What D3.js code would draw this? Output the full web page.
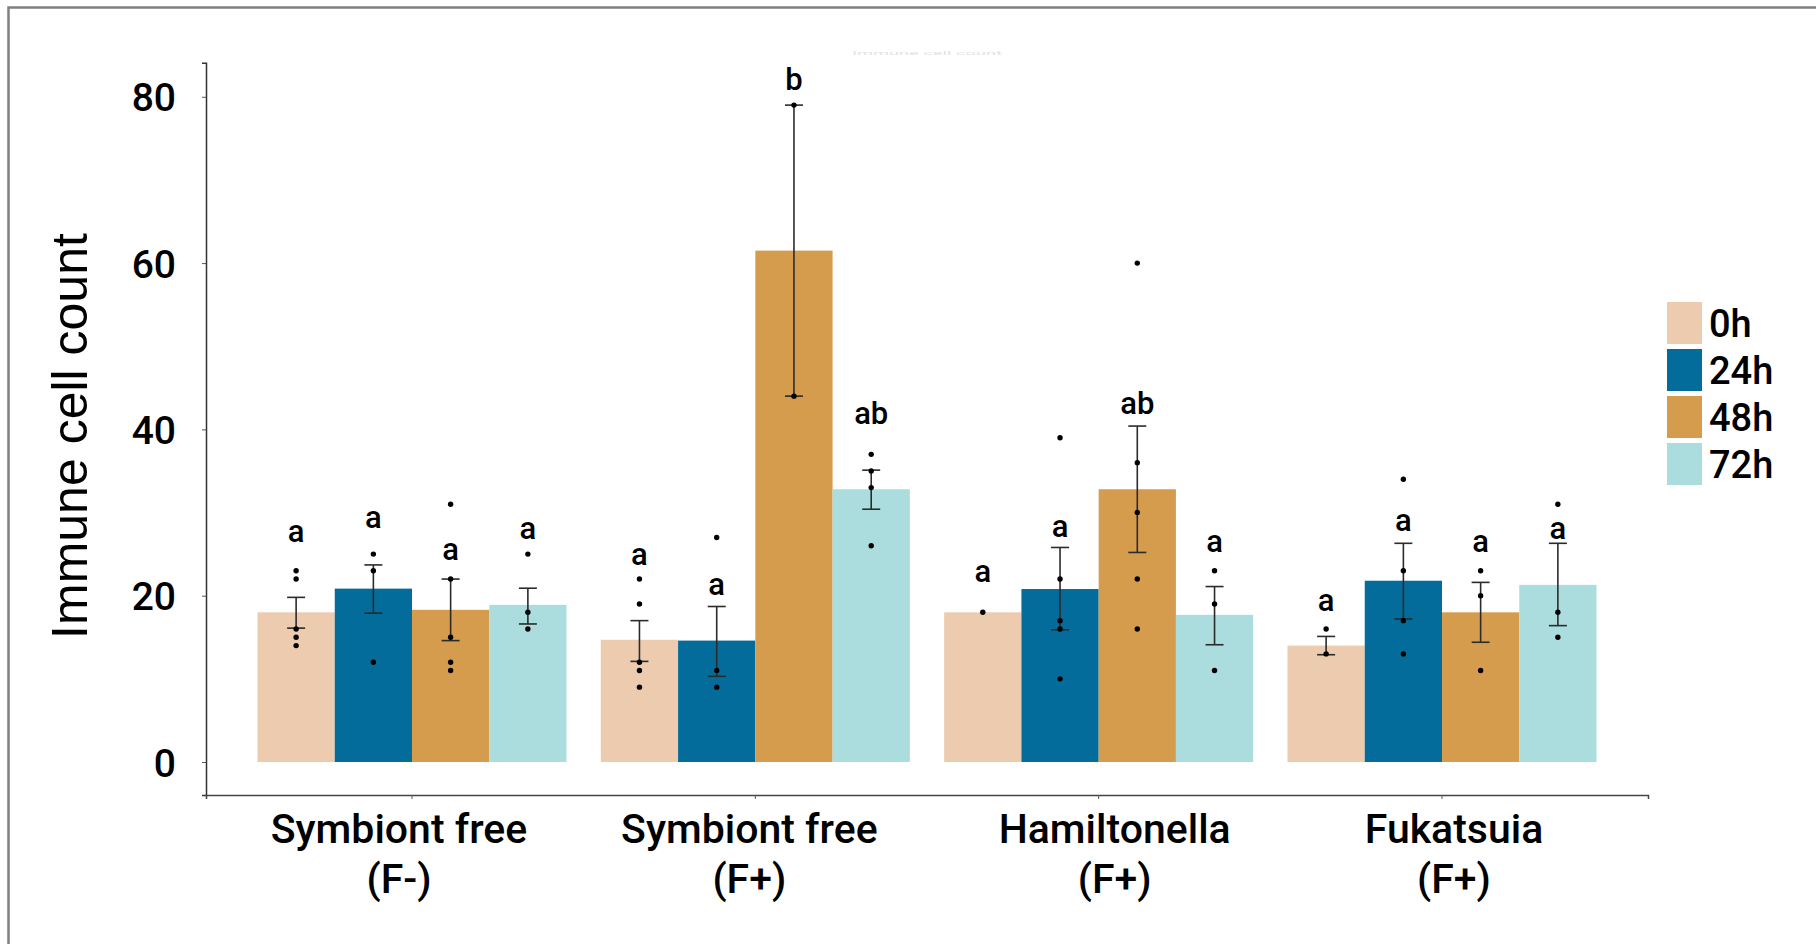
<!DOCTYPE html>
<html>
<head>
<meta charset="utf-8">
<script src="https://cdn.jsdelivr.net/npm/d3@7"></script>
<style>
  body { margin: 0; background: #fff; }
  text { font-family: Roboto, "Liberation Sans", sans-serif; }
</style>
</head>
<body>
<svg width="1816" height="944"></svg>
<script>
var categories = ["Symbiont free (F-)", "Symbiont free (F+)", "Hamiltonella (F+)", "Fukatsuia (F+)"];
var times = ["0h", "24h", "48h", "72h"];
var colors = ["#ECCBAE", "#046C9A", "#D69C4E", "#ABDDDE"];

// bar heights (mean), one row per category, one column per time point
var means = [
  [18.0, 20.85, 18.3, 18.9],
  [14.7, 14.6, 61.5, 32.8],
  [18.0, 20.8, 32.8, 17.7],
  [14.0, 21.8, 18.0, 21.3]
];

// error bar low / high
var errLow = [
  [16.1, 17.9, 14.6, 16.6],
  [12.1, 10.3, 44.0, 30.4],
  [null, 15.9, 25.2, 14.1],
  [12.9, 17.2, 14.4, 16.4]
];
var errHigh = [
  [19.8, 23.7, 22.0, 20.9],
  [17.0, 18.7, 79.0, 35.1],
  [null, 25.8, 40.4, 21.1],
  [15.1, 26.3, 21.6, 26.3]
];

// individual observations
var points = [
  [[23, 22, 16, 15, 14], [25, 23, 12], [31, 22, 15, 12, 11], [25, 18, 16]],
  [[22, 19, 12, 11, 9], [27, 11, 9], [79, 44], [37, 35, 33, 26]],
  [[18], [39, 22, 17, 16, 10], [60, 36, 30, 22, 16], [23, 19, 11]],
  [[16, 13], [34, 23, 17, 13], [23, 20, 11], [31, 18, 15]]
];

// significance letters and the value where their baseline sits
var letters = [
  ["a", "a", "a", "a"],
  ["a", "a", "b", "ab"],
  ["a", "a", "ab", "a"],
  ["a", "a", "a", "a"]
];
var letterAt = [
  [26.4, 28.1, 24.3, 26.8],
  [23.7, 20.1, 80.8, 40.6],
  [21.7, 27.1, 41.9, 25.3],
  [18.2, 27.8, 25.3, 26.8]
];

var yTicks = [0, 20, 40, 60, 80];

var svg = d3.select("svg");

// outer frame (only top and left edges are visible)
svg.append("path")
  .attr("d", "M8.5,944V7.5H1816")
  .attr("fill", "none")
  .attr("stroke", "#808080")
  .attr("stroke-width", 2.5);

var x0 = d3.scaleBand()
  .domain(categories)
  .range([206, 1648])
  .paddingInner(0.1)
  .paddingOuter(0.15);

var x1 = d3.scaleBand()
  .domain(times)
  .range([0, x0.bandwidth()]);

var y = d3.scaleLinear()
  .domain([-3.97, 84.1])
  .range([795, 62.7]);

var color = d3.scaleOrdinal().domain(times).range(colors);

// faint leftover title
svg.append("text")
  .attr("x", 852)
  .attr("y", 55)
  .attr("textLength", 150)
  .attr("lengthAdjust", "spacingAndGlyphs")
  .style("font-size", "6px")
  .attr("fill", "#e0e4e6")
  .text("Immune cell count");

// axes
var yAxis = svg.append("g")
  .attr("transform", "translate(206,0)")
  .call(d3.axisLeft(y).tickValues(yTicks).tickSize(4).tickPadding(26));
yAxis.select(".domain").attr("stroke", "#333").attr("stroke-width", 1.5);
yAxis.selectAll(".tick line").attr("stroke", "#555");
yAxis.selectAll(".tick text")
  .attr("fill", "#000")
  .attr("dy", "0.36em")
  .style("font-family", "Roboto")
  .style("font-weight", 500)
  .style("font-size", "39px");

var xAxis = svg.append("g")
  .attr("transform", "translate(0,795)")
  .call(d3.axisBottom(x0).tickSize(4).tickFormat(""));
xAxis.select(".domain").attr("stroke", "#444").attr("stroke-width", 1.5);
xAxis.selectAll(".tick line").attr("stroke", "#555");

// category labels in two lines
var labelShift = [-13, -6, 16, 12];
var catLabel = svg.append("g").selectAll("text")
  .data(categories)
  .enter().append("text")
  .attr("text-anchor", "middle")
  .attr("transform", function(d, i) { return "translate(" + (x0(d) + x0.bandwidth() / 2 + labelShift[i]) + ",0)"; })
  .style("font-size", "41px")
  .style("font-weight", 500)
  .attr("fill", "#000");
catLabel.append("tspan")
  .attr("x", 0).attr("y", 843)
  .text(function(d) { return d.slice(0, d.lastIndexOf(" ")); });
catLabel.append("tspan")
  .attr("x", 0).attr("y", 893)
  .text(function(d) { return d.slice(d.lastIndexOf(" ") + 1); });

// y title
svg.append("text")
  .attr("transform", "translate(87,436) rotate(-90)")
  .attr("text-anchor", "middle")
  .style("font-family", "'Liberation Sans', Arial, sans-serif")
  .style("font-size", "50px")
  .attr("fill", "#000")
  .text("Immune cell count");

// bars, error bars, dots, letters
var cells = [];
categories.forEach(function(c, i) {
  times.forEach(function(t, j) {
    cells.push({
      cat: c, time: t,
      mean: means[i][j], lo: errLow[i][j], hi: errHigh[i][j],
      pts: points[i][j], letter: letters[i][j], letterY: letterAt[i][j]
    });
  });
});

var cell = svg.append("g").selectAll(".cell")
  .data(cells)
  .enter().append("g")
  .attr("class", "cell")
  .attr("transform", function(d) { return "translate(" + (x0(d.cat) + x1(d.time)) + ",0)"; });

cell.append("rect")
  .attr("x", 0)
  .attr("width", x1.bandwidth())
  .attr("y", function(d) { return y(d.mean); })
  .attr("height", function(d) { return y(0) - y(d.mean); })
  .attr("fill", function(d) { return color(d.time); });

var cx = x1.bandwidth() / 2;
var err = cell.filter(function(d) { return d.lo != null; });
err.append("line")
  .attr("x1", cx).attr("x2", cx)
  .attr("y1", function(d) { return y(d.lo); })
  .attr("y2", function(d) { return y(d.hi); })
  .attr("stroke", "#2b2b2b").attr("stroke-width", 1.6);
err.append("line")
  .attr("x1", cx - 9).attr("x2", cx + 9)
  .attr("y1", function(d) { return y(d.lo); })
  .attr("y2", function(d) { return y(d.lo); })
  .attr("stroke", "#2b2b2b").attr("stroke-width", 1.6);
err.append("line")
  .attr("x1", cx - 9).attr("x2", cx + 9)
  .attr("y1", function(d) { return y(d.hi); })
  .attr("y2", function(d) { return y(d.hi); })
  .attr("stroke", "#2b2b2b").attr("stroke-width", 1.6);

cell.selectAll("circle")
  .data(function(d) { return d.pts; })
  .enter().append("circle")
  .attr("cx", cx)
  .attr("cy", function(v) { return y(v); })
  .attr("r", 2.7)
  .attr("fill", "#000");

cell.append("text")
  .attr("x", cx)
  .attr("y", function(d) { return y(d.letterY); })
  .attr("text-anchor", "middle")
  .style("font-size", "31px")
  .style("font-weight", 500)
  .attr("fill", "#000")
  .text(function(d) { return d.letter; });

// legend
var legend = svg.append("g").selectAll(".key")
  .data(times)
  .enter().append("g")
  .attr("class", "key")
  .attr("transform", function(d, i) { return "translate(1667," + (302 + i * 47) + ")"; });
legend.append("rect")
  .attr("width", 35)
  .attr("height", 42)
  .attr("fill", function(d) { return color(d); });
legend.append("text")
  .attr("x", 42)
  .attr("y", 35)
  .style("font-size", "38px")
  .style("font-weight", 500)
  .attr("fill", "#000")
  .text(function(d) { return d; });
</script>
</body>
</html>
